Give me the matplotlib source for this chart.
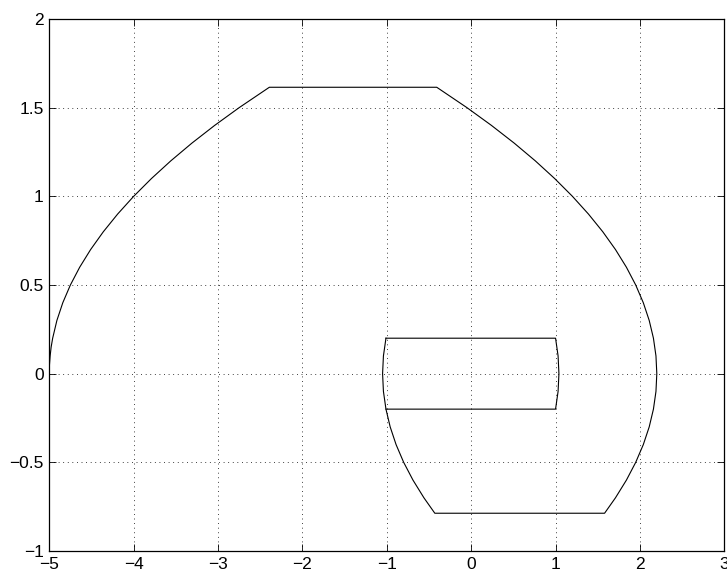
import matplotlib
matplotlib.use("Agg")
import matplotlib.pyplot as plt

# outer boundary: left arc, flat top, right arc, flat bottom, lower-left arc
outer_x = [-5.0, -4.998, -4.99, -4.978, -4.96, -4.91, -4.84, -4.75, -4.64, -4.51,
           -4.36, -4.19, -4.0, -3.79, -3.56, -3.31, -3.04, -2.75, -2.392,
           -0.408, -0.05, 0.24, 0.51, 0.76, 0.99, 1.2, 1.39, 1.56, 1.71, 1.84,
           1.95, 2.04, 2.11, 2.16, 2.19, 2.2, 2.19, 2.16, 2.11, 2.04, 1.95,
           1.84, 1.71, 1.581,
           -0.431, -0.56, -0.69, -0.8, -0.89, -0.96, -1.01, -1.04, -1.05, -1.04, -1.01]
outer_y = [0.0, 0.05, 0.1, 0.15, 0.2, 0.3, 0.4, 0.5, 0.6, 0.7,
           0.8, 0.9, 1.0, 1.1, 1.2, 1.3, 1.4, 1.5, 1.615,
           1.615, 1.5, 1.4, 1.3, 1.2, 1.1, 1.0, 0.9, 0.8, 0.7, 0.6,
           0.5, 0.4, 0.3, 0.2, 0.1, 0.0, -0.1, -0.2, -0.3, -0.4, -0.5,
           -0.6, -0.7, -0.787,
           -0.787, -0.7, -0.6, -0.5, -0.4, -0.3, -0.2, -0.1, 0.0, 0.1, 0.2]

# inner box: top edge, right arc, bottom edge
inner_x = [-1.01, 1.0, 1.03, 1.04, 1.03, 1.0, -1.01]
inner_y = [0.2, 0.2, 0.1, 0.0, -0.1, -0.2, -0.2]

xticks = [-5, -4, -3, -2, -1, 0, 1, 2, 3]
yticks = [-1, -0.5, 0, 0.5, 1, 1.5, 2]
ytick_labels = ["\u22121", "\u22120.5", "0", "0.5", "1", "1.5", "2"]
xtick_labels = ["\u22125", "\u22124", "\u22123", "\u22122", "\u22121", "0", "1", "2", "3"]

plt.rcParams['font.family'] = ['Liberation Sans', 'DejaVu Sans']

fig = plt.figure(figsize=(7.27, 5.72), dpi=100)
ax = fig.add_axes([0.0678, 0.0367, 0.9285, 0.9301])

ax.plot(outer_x, outer_y, color="black", lw=0.8)
ax.plot(inner_x, inner_y, color="black", lw=0.8)

ax.set_xlim(-5, 3)
ax.set_ylim(-1, 2)
ax.set_xticks(xticks)
ax.set_xticklabels(xtick_labels)
ax.set_yticks(yticks)
ax.set_yticklabels(ytick_labels)
ax.tick_params(direction="in", top=True, right=True, length=5, width=0.6,
               labelsize=12.5, pad=4)
ax.grid(True, color="black", lw=0.6, linestyle=(0, (1, 4.5)))
for s in ax.spines.values():
    s.set_linewidth(0.9)

fig.savefig("out.png", dpi=100)
